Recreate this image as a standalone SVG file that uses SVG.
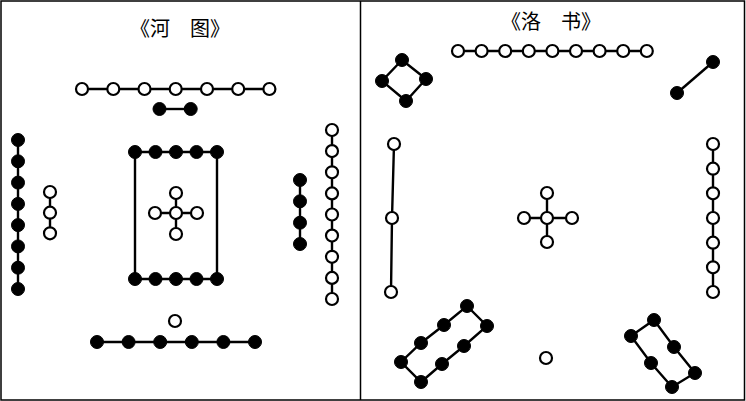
<svg xmlns="http://www.w3.org/2000/svg" width="746" height="401" viewBox="0 0 746 401">
<style>
.w{fill:#fff;stroke:#000;stroke-width:2.2}
.b{fill:#000;stroke:#000;stroke-width:1}
.ln{stroke:#000;stroke-width:2.4;fill:none}
.t{font-family:"Noto Sans CJK SC","Noto Sans CJK JP",sans-serif;font-size:20px;fill:#000}
</style>
<rect x="0" y="0" width="746" height="401" fill="#fff"/>
<rect x="1" y="1" width="743.5" height="399" fill="none" stroke="#000" stroke-width="1.5"/>
<line x1="360.5" y1="1" x2="360.5" y2="400" stroke="#000" stroke-width="1.5"/>
<text class="t" x="180" y="36" text-anchor="middle">《河　图》</text>
<text class="t" x="551" y="29" text-anchor="middle">《洛　书》</text>

<g id="connectors">
<line class="ln" x1="82" y1="89" x2="269" y2="89"/>
<line class="ln" x1="159" y1="109" x2="191" y2="109"/>
<line class="ln" x1="18" y1="140" x2="18" y2="289"/>
<line class="ln" x1="50" y1="192" x2="50" y2="233"/>
<polyline class="ln" points="135,279 135,152 217,152 217,279 135,279"/>
<line class="ln" x1="155" y1="213" x2="197" y2="213"/>
<line class="ln" x1="176" y1="193" x2="176" y2="234"/>
<line class="ln" x1="300" y1="180" x2="300" y2="244"/>
<line class="ln" x1="332" y1="130" x2="332" y2="299"/>
<line class="ln" x1="97" y1="342" x2="255" y2="342"/>
<line class="ln" x1="458" y1="51" x2="647" y2="51"/>
<polygon class="ln" points="402,60 426,79 406,101 382,81"/>
<line class="ln" x1="713" y1="62" x2="677" y2="93"/>
<polyline class="ln" points="394,144 392,218 391,292"/>
<line class="ln" x1="524" y1="218" x2="572" y2="218"/>
<line class="ln" x1="547" y1="193" x2="547" y2="242"/>
<line class="ln" x1="713" y1="144" x2="713" y2="292"/>
<polygon class="ln" points="467,306 487,326 464,346 442,364 421,382 401,362 421,343 444,325"/>
<polygon class="ln" points="654,320 674,347 695,373 672,387 651,363 631,336"/>
</g>

<g id="hetu-top-white">
<circle class="w" cx="82" cy="89" r="6"/>
<circle class="w" cx="113.3" cy="89" r="6"/>
<circle class="w" cx="144.5" cy="89" r="6"/>
<circle class="w" cx="175.7" cy="89" r="6"/>
<circle class="w" cx="207" cy="89" r="6"/>
<circle class="w" cx="238.2" cy="89" r="6"/>
<circle class="w" cx="269.4" cy="89" r="6"/>
</g>
<g id="hetu-top-black">
<circle class="b" cx="159.5" cy="109" r="6.5"/>
<circle class="b" cx="190.7" cy="109" r="6.5"/>
</g>
<g id="hetu-left-black">
<circle class="b" cx="18" cy="140" r="6.5"/>
<circle class="b" cx="18" cy="161.3" r="6.5"/>
<circle class="b" cx="18" cy="182.6" r="6.5"/>
<circle class="b" cx="18" cy="203.9" r="6.5"/>
<circle class="b" cx="18" cy="225.1" r="6.5"/>
<circle class="b" cx="18" cy="246.4" r="6.5"/>
<circle class="b" cx="18" cy="267.7" r="6.5"/>
<circle class="b" cx="18" cy="289" r="6.5"/>
</g>
<g id="hetu-left-white">
<circle class="w" cx="50" cy="192" r="6"/>
<circle class="w" cx="50" cy="212.7" r="6"/>
<circle class="w" cx="50" cy="233.3" r="6"/>
</g>
<g id="hetu-center-black">
<circle class="b" cx="135" cy="152" r="6.5"/>
<circle class="b" cx="155.5" cy="152" r="6.5"/>
<circle class="b" cx="176" cy="152" r="6.5"/>
<circle class="b" cx="196.5" cy="152" r="6.5"/>
<circle class="b" cx="217" cy="152" r="6.5"/>
<circle class="b" cx="135" cy="279" r="6.5"/>
<circle class="b" cx="155.5" cy="279" r="6.5"/>
<circle class="b" cx="176" cy="279" r="6.5"/>
<circle class="b" cx="196.5" cy="279" r="6.5"/>
<circle class="b" cx="217" cy="279" r="6.5"/>
</g>
<g id="hetu-center-white">
<circle class="w" cx="176" cy="193" r="6"/>
<circle class="w" cx="155" cy="213" r="6"/>
<circle class="w" cx="176" cy="213" r="6"/>
<circle class="w" cx="197" cy="213" r="6"/>
<circle class="w" cx="176" cy="234" r="6"/>
</g>
<g id="hetu-right-black">
<circle class="b" cx="300" cy="180" r="6.5"/>
<circle class="b" cx="300" cy="201.3" r="6.5"/>
<circle class="b" cx="300" cy="222.7" r="6.5"/>
<circle class="b" cx="300" cy="244" r="6.5"/>
</g>
<g id="hetu-right-white">
<circle class="w" cx="332" cy="130" r="6"/>
<circle class="w" cx="332" cy="151.1" r="6"/>
<circle class="w" cx="332" cy="172.3" r="6"/>
<circle class="w" cx="332" cy="193.4" r="6"/>
<circle class="w" cx="332" cy="214.5" r="6"/>
<circle class="w" cx="332" cy="235.6" r="6"/>
<circle class="w" cx="332" cy="256.8" r="6"/>
<circle class="w" cx="332" cy="277.9" r="6"/>
<circle class="w" cx="332" cy="299" r="6"/>
</g>
<g id="hetu-bottom-white">
<circle class="w" cx="175" cy="321" r="6"/>
</g>
<g id="hetu-bottom-black">
<circle class="b" cx="97" cy="342" r="6.5"/>
<circle class="b" cx="128.6" cy="342" r="6.5"/>
<circle class="b" cx="160.2" cy="342" r="6.5"/>
<circle class="b" cx="191.8" cy="342" r="6.5"/>
<circle class="b" cx="223.4" cy="342" r="6.5"/>
<circle class="b" cx="255" cy="342" r="6.5"/>
</g>

<g id="luoshu-top-white">
<circle class="w" cx="458" cy="51" r="6"/>
<circle class="w" cx="481.6" cy="51" r="6"/>
<circle class="w" cx="505.2" cy="51" r="6"/>
<circle class="w" cx="528.8" cy="51" r="6"/>
<circle class="w" cx="552.4" cy="51" r="6"/>
<circle class="w" cx="576" cy="51" r="6"/>
<circle class="w" cx="599.6" cy="51" r="6"/>
<circle class="w" cx="623.2" cy="51" r="6"/>
<circle class="w" cx="646.8" cy="51" r="6"/>
</g>
<g id="luoshu-topleft-black">
<circle class="b" cx="402" cy="60" r="6.5"/>
<circle class="b" cx="426" cy="79" r="6.5"/>
<circle class="b" cx="406" cy="101" r="6.5"/>
<circle class="b" cx="382" cy="81" r="6.5"/>
</g>
<g id="luoshu-topright-black">
<circle class="b" cx="713" cy="62" r="6.5"/>
<circle class="b" cx="677" cy="93" r="6.5"/>
</g>
<g id="luoshu-left-white">
<circle class="w" cx="394" cy="144" r="6"/>
<circle class="w" cx="392" cy="218" r="6"/>
<circle class="w" cx="391" cy="292" r="6"/>
</g>
<g id="luoshu-center-white">
<circle class="w" cx="547" cy="193" r="6"/>
<circle class="w" cx="524" cy="218" r="6"/>
<circle class="w" cx="547" cy="218" r="6"/>
<circle class="w" cx="572" cy="218" r="6"/>
<circle class="w" cx="547" cy="242" r="6"/>
</g>
<g id="luoshu-right-white">
<circle class="w" cx="713" cy="144" r="6"/>
<circle class="w" cx="713" cy="168.7" r="6"/>
<circle class="w" cx="713" cy="193.3" r="6"/>
<circle class="w" cx="713" cy="218" r="6"/>
<circle class="w" cx="713" cy="242.7" r="6"/>
<circle class="w" cx="713" cy="267.3" r="6"/>
<circle class="w" cx="713" cy="292" r="6"/>
</g>
<g id="luoshu-bottom-white">
<circle class="w" cx="546" cy="358" r="6"/>
</g>
<g id="luoshu-bottomleft-black">
<circle class="b" cx="467" cy="306" r="6.5"/>
<circle class="b" cx="487" cy="326" r="6.5"/>
<circle class="b" cx="464" cy="346" r="6.5"/>
<circle class="b" cx="442" cy="364" r="6.5"/>
<circle class="b" cx="421" cy="382" r="6.5"/>
<circle class="b" cx="401" cy="362" r="6.5"/>
<circle class="b" cx="421" cy="343" r="6.5"/>
<circle class="b" cx="444" cy="325" r="6.5"/>
</g>
<g id="luoshu-bottomright-black">
<circle class="b" cx="654" cy="320" r="6.5"/>
<circle class="b" cx="674" cy="347" r="6.5"/>
<circle class="b" cx="695" cy="373" r="6.5"/>
<circle class="b" cx="672" cy="387" r="6.5"/>
<circle class="b" cx="651" cy="363" r="6.5"/>
<circle class="b" cx="631" cy="336" r="6.5"/>
</g>
</svg>
